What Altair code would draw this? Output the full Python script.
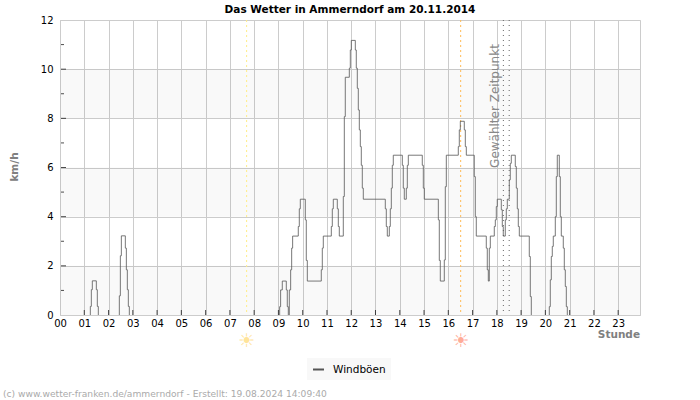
import altair as alt
import pandas as pd

# Gust trace, one (hours, km/h) pair of lists per stretch of wind.
# The line holds each reading until the next one.
hours_a = [1.250, 1.291, 1.332, 1.497, 1.538, 1.579]
gust_a = [0.35, 1.03, 1.39, 1.03, 0.35, 0]
hours_b = [2.445, 2.487, 2.528, 2.692, 2.734, 2.775, 2.816, 2.857]
gust_b = [0.78, 2.41, 3.22, 2.72, 1.84, 1.03, 0.35, 0]
hours_c = [9.051, 9.091, 9.160, 9.325, 9.366, 9.408]
gust_c = [0.34, 1.02, 1.38, 1.02, 0.34, 0]
hours_d = [
    9.449, 9.504, 9.546, 9.586, 9.819, 9.861, 9.902, 10.108, 10.149, 10.191,
    10.767, 10.809, 10.850, 11.180, 11.221, 11.262, 11.427, 11.469, 11.509, 11.674,
    11.716, 11.756, 11.922, 11.963, 12.004, 12.169, 12.209, 12.251, 12.292, 12.334,
    12.375, 12.416, 12.457, 12.498, 13.405, 13.446, 13.487, 13.570, 13.611, 13.653,
    13.693, 13.734, 14.106, 14.146, 14.188, 14.270, 14.312, 14.353, 14.929, 14.971,
    15.012, 15.590, 15.630, 15.671, 15.836, 15.877, 15.919, 16.413, 16.454, 16.496,
    16.660, 16.702, 16.743, 17.071, 17.113, 17.154, 17.566, 17.607, 17.649, 17.690,
    17.732, 17.896, 17.938, 17.979, 18.019, 18.185, 18.226, 18.266, 18.349, 18.391,
    18.432, 18.514, 18.555, 18.597, 18.761, 18.803, 18.844, 18.885, 18.927, 19.338,
    19.380, 19.421,
]
gust_d = [
    1.02, 1.84, 2.72, 3.21, 3.60, 4.32, 4.71, 3.87, 2.22, 1.38,
    1.84, 2.72, 3.21, 3.60, 4.32, 4.71, 4.32, 3.60, 3.21, 4.82,
    8.07, 9.67, 10.04, 10.78, 11.17, 10.78, 10.04, 9.22, 8.34, 7.53,
    6.85, 6.09, 5.16, 4.71, 4.32, 3.60, 3.21, 3.60, 4.32, 5.16,
    6.09, 6.50, 6.09, 5.16, 4.71, 5.16, 6.09, 6.50, 6.09, 5.16,
    4.71, 3.87, 2.22, 1.38, 2.24, 5.22, 6.50, 6.85, 7.53, 7.88,
    7.53, 6.85, 6.50, 5.63, 4.00, 3.21, 2.72, 1.84, 1.38, 2.72,
    3.21, 3.60, 3.87, 4.41, 4.71, 4.28, 3.60, 3.21, 3.87, 4.32,
    4.71, 5.50, 6.17, 6.50, 6.04, 5.16, 4.32, 3.60, 3.21, 2.38,
    0.75, 0,
]
hours_e = [20.163, 20.203, 20.245, 20.286, 20.327, 20.410, 20.451, 20.492,
           20.575, 20.616, 20.657, 20.739, 20.781, 20.822, 20.864, 20.905]
gust_e = [0.34, 1.43, 2.38, 2.79, 3.21, 4.00, 5.63, 6.50,
          5.63, 4.00, 3.21, 2.72, 1.84, 1.16, 0.34, 0]

y_major = [2, 4, 6, 8, 10]
y_minor = [1, 3, 5, 7, 9, 11]
x_hours = list(range(1, 24))
band_start = [0, 4, 8]
band_end = [2, 6, 10]

sunrise = 7.69
sunset = 16.51
selected = [18.27, 18.51]
day_end = 23.9

segments = [hours_a, hours_b, hours_c, hours_d, hours_e]
values = [gust_a, gust_b, gust_c, gust_d, gust_e]
rows = []
for idx, (hs, vs) in enumerate(zip(segments, values)):
    rows.append({"h": hs[0], "v": 0, "seg": idx, "series": "Windböen"})
    for h, v in zip(hs, vs, strict=True):
        rows.append({"h": h, "v": v, "seg": idx, "series": "Windböen"})
gusts = pd.DataFrame(rows)

FONT = "DejaVu Sans"
x_scale = alt.Scale(domain=[0, day_end], nice=False, zero=False)
y_scale = alt.Scale(domain=[0, 12], nice=False)
x_axis = alt.Axis(
    values=list(range(24)), format="02d", grid=True, gridColor="#cccccc", gridWidth=1,
    ticks=False, domain=True, domainColor="#cccccc", labelPadding=3,
    labelFont=FONT, labelFontSize=10, labelColor="#000000", labelFlush=False, title=None)
y_axis = alt.Axis(
    values=[0, 2, 4, 6, 8, 10, 12], grid=True, gridColor="#cccccc", gridWidth=1,
    ticks=False, domain=True, domainColor="#cccccc", labelPadding=7,
    labelFont=FONT, labelFontSize=10, labelColor="#000000", title=None)
X = alt.X("x:Q", scale=x_scale, axis=x_axis)
Y = alt.Y("y:Q", scale=y_scale, axis=y_axis)

# Translucent so the grid stays visible through the shaded bands.
bands = alt.Chart(pd.DataFrame({"y": band_start, "y2": band_end})).mark_rect(
    color="#000000", opacity=0.024
).encode(y=Y, y2="y2:Q")

x_ticks = alt.Chart(pd.DataFrame({"x": x_hours, "y": [0] * len(x_hours)})).mark_tick(
    orient="vertical", size=5, yOffset=-2.5, color="#000000", thickness=1
).encode(x=X, y=Y)
major_ticks = alt.Chart(pd.DataFrame({"x": [0] * 5, "y": y_major})).mark_tick(
    orient="horizontal", size=5, xOffset=3.5, color="#000000", thickness=1
).encode(x=X, y=Y)
minor_ticks = alt.Chart(pd.DataFrame({"x": [0] * 6, "y": y_minor})).mark_tick(
    orient="horizontal", size=3, xOffset=2.5, color="#000000", thickness=1
).encode(x=X, y=Y)

sun_up = alt.Chart(pd.DataFrame({"x": [sunrise]})).mark_rule(
    color="#ffee88", strokeDash=[2, 3], strokeWidth=1
).encode(x=X)
sun_down = alt.Chart(pd.DataFrame({"x": [sunset]})).mark_rule(
    color="#ffbb55", strokeDash=[2, 3], strokeWidth=1
).encode(x=X)
chosen = alt.Chart(pd.DataFrame({"x": selected})).mark_rule(
    color="#666666", strokeDash=[1, 4], strokeWidth=1
).encode(x=X)

chosen_label = alt.Chart(pd.DataFrame({"x": [17.92], "y": [8.5]})).mark_text(
    text="Gewählter Zeitpunkt", angle=270, font=FONT, fontSize=12, color="#888888",
    align="center", baseline="middle"
).encode(x=X, y=Y)

line = alt.Chart(gusts).mark_line(interpolate="step-after", strokeWidth=0.8).encode(
    x=alt.X("h:Q", scale=x_scale, axis=x_axis),
    y=alt.Y("v:Q", scale=y_scale, axis=y_axis),
    detail="seg:N",
    color=alt.Color("series:N", scale=alt.Scale(range=["#555555"]), legend=alt.Legend(
        orient="none", legendX=247, legendY=338, title=None, fillColor="#f8f8f8",
        symbolType="stroke", symbolStrokeColor="#666666", symbolStrokeWidth=2, symbolSize=120,
        padding=5, labelOffset=8, labelFont=FONT, labelFontSize=10.5, labelColor="#000000")),
)

sun_icons = alt.Chart(pd.DataFrame({"x": [sunrise, sunset], "c": ["#ffe49a", "#ffac98"]})).mark_text(
    text="☀", font=FONT, fontSize=19, align="center", baseline="middle", dy=26
).encode(
    x=X, y=alt.value(295), color=alt.Color("c:N", scale=None, legend=None)
)

stunde = alt.Chart(pd.DataFrame({"x": [day_end]})).mark_text(
    text="Stunde", font=FONT, fontSize=10.5, fontWeight="bold", color="#808080",
    align="right", baseline="middle", dy=20
).encode(x=X, y=alt.value(295))
kmh = alt.Chart(pd.DataFrame({"x": [0]})).mark_text(
    text="km/h", font=FONT, fontSize=10.5, fontWeight="bold", color="#808080",
    angle=270, align="center", baseline="middle"
).encode(x=alt.value(-45), y=alt.value(147))
credit = alt.Chart(pd.DataFrame({"x": [0]})).mark_text(
    text="(c) www.wetter-franken.de/ammerndorf - Erstellt: 19.08.2024 14:09:40",
    font=FONT, fontSize=9.15, color="#aaaaaa", align="left", baseline="middle", dx=-57
).encode(x=X, y=alt.value(374))

chart = alt.layer(
    bands, sun_up, sun_down, chosen, chosen_label, x_ticks, major_ticks, minor_ticks,
    line, sun_icons, stunde, kmh, credit
).resolve_scale(color="independent").properties(
    width=580,
    height=295,
    title=alt.TitleParams("Das Wetter in Ammerndorf am 20.11.2014", font=FONT, fontSize=10.5,
                          fontWeight="bold", color="#000000", anchor="middle", offset=0),
    autosize=alt.AutoSizeParams(type="none"),
    padding={"left": 60, "top": 20, "right": 60, "bottom": 85},
).configure_view(stroke="#cccccc", strokeWidth=1)

chart.save("out.html", embed_options={"renderer": "svg", "actions": False})
